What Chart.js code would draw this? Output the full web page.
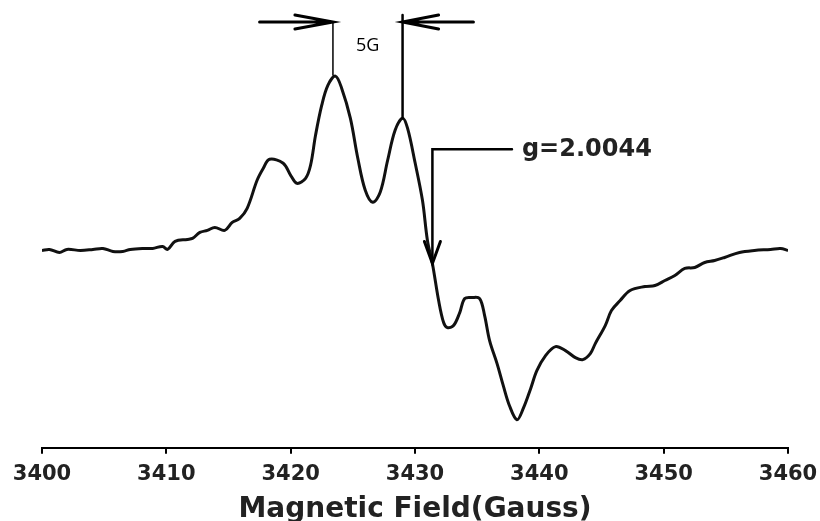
<!DOCTYPE html>
<html>
<head>
<meta charset="utf-8">
<title>EPR spectrum</title>
<script src="https://cdn.jsdelivr.net/npm/chart.js@4.4.1/dist/chart.umd.min.js"></script>
<style>
  html, body { margin: 0; padding: 0; background: #fff; }
  #wrap { width: 820px; height: 521px; position: relative; }
</style>
</head>
<body>
<div id="wrap"><canvas id="epr"></canvas></div>
<script>
// Field values (Gauss) and signal (arbitrary units, baseline = 0)
const fieldGauss = [
  3400.0, 3400.6, 3401.4, 3402.0, 3403.1, 3404.1, 3404.9, 3405.7, 3406.5, 3407.1,
  3408.1, 3408.9, 3409.7, 3410.1, 3410.7, 3411.7, 3412.1, 3412.7, 3413.3, 3413.9,
  3414.7, 3415.3, 3415.9, 3416.5, 3417.3, 3417.8, 3418.3, 3419.4, 3420.0, 3420.5,
  3421.2, 3421.6, 3422.0, 3422.5, 3423.0, 3423.6, 3424.1, 3424.8, 3425.4, 3426.0,
  3426.6, 3427.2, 3427.8, 3428.4, 3429.0, 3429.4, 3430.0, 3430.6, 3431.0, 3431.4,
  3431.9, 3432.3, 3432.6, 3433.1, 3433.6, 3434.0, 3434.6, 3435.2, 3435.6, 3436.0,
  3436.6, 3437.1, 3437.6, 3438.2, 3438.7, 3439.3, 3439.8, 3440.5, 3441.3, 3442.1,
  3442.9, 3443.5, 3444.1, 3444.5, 3445.3, 3445.8, 3446.5, 3447.3, 3448.5, 3449.3,
  3450.1, 3450.9, 3451.7, 3452.5, 3453.3, 3454.1, 3454.9, 3456.1, 3457.3, 3458.6,
  3459.4, 3460.0
];
const signal = [
  0, 1, -2, 1, 0, 1, 2, -1, -1, 1,
  2, 2, 4, 1, 9, 11, 12, 18, 20, 23,
  20, 28, 32, 42, 70, 82, 91, 87, 75, 67,
  72, 85, 115, 145, 165, 174, 162, 132, 92, 60,
  48, 58, 90, 120, 132, 122, 88, 50, 10, -13,
  -50, -72, -77, -75, -62, -48, -47, -48, -65, -90,
  -113, -135, -155, -169, -158, -138, -120, -105, -96, -100,
  -107, -109, -103, -93, -75, -60, -50, -40, -36, -35,
  -30, -25, -18, -17, -12, -10, -7, -2, 0, 1,
  2, 0
];
const fieldTicks = [3400, 3410, 3420, 3430, 3440, 3450, 3460];

// annotation anchors in data units
const splitLeft = 3423.4;   // first line of the 5G doublet
const splitRight = 3429.0;  // second line
const gField = 3431.4;      // g = 2.0044 position

const annotations = {
  id: 'annotations',
  afterDatasetsDraw(chart) {
    const { ctx } = chart;
    const x = chart.scales.x, y = chart.scales.y;
    const px = v => x.getPixelForValue(v);
    const py = v => y.getPixelForValue(v);
    ctx.save();
    ctx.strokeStyle = '#000';
    ctx.fillStyle = '#000';
    ctx.lineCap = 'round';

    // left arrow of 5G
    const xl = px(splitLeft), yTop = py(228);
    ctx.lineWidth = 3;
    ctx.beginPath();
    ctx.moveTo(px(3417.5), yTop); ctx.lineTo(xl, yTop);
    ctx.moveTo(xl - 38, yTop - 7); ctx.lineTo(xl, yTop); ctx.lineTo(xl - 38, yTop + 7);
    ctx.stroke();
    ctx.lineWidth = 1.5;
    ctx.beginPath();
    ctx.moveTo(xl, yTop); ctx.lineTo(xl, py(175));
    ctx.stroke();

    // right arrow of 5G
    const xr = px(splitRight);
    ctx.lineWidth = 3;
    ctx.beginPath();
    ctx.moveTo(px(3434.7), yTop); ctx.lineTo(xr, yTop);
    ctx.moveTo(xr + 36, yTop - 7); ctx.lineTo(xr, yTop); ctx.lineTo(xr + 36, yTop + 7);
    ctx.stroke();
    ctx.lineWidth = 2.5;
    ctx.beginPath();
    ctx.moveTo(xr, py(235)); ctx.lineTo(xr, py(132));
    ctx.stroke();

    ctx.font = '18px "Open Sans"';
    ctx.textAlign = 'center';
    ctx.textBaseline = 'middle';
    ctx.fillText('5G', px(3426.2), py(204));

    // g marker
    const xg = px(gField), yg = py(101), tip = py(-13);
    ctx.lineWidth = 2.5;
    ctx.beginPath();
    ctx.moveTo(px(3437.8), yg); ctx.lineTo(xg, yg); ctx.lineTo(xg, tip);
    ctx.stroke();
    ctx.lineWidth = 3;
    ctx.beginPath();
    ctx.moveTo(xg - 8, tip - 22); ctx.lineTo(xg, tip); ctx.lineTo(xg + 8, tip - 22);
    ctx.stroke();

    ctx.font = 'bold 24px "DejaVu Sans"';
    ctx.textAlign = 'left';
    ctx.fillStyle = '#222';
    ctx.fillText('g=2.0044', px(3438.6), py(100));
    ctx.restore();
  }
};

document.addEventListener('DOMContentLoaded', () => {
  const ctx = document.getElementById('epr').getContext('2d');
  new Chart(ctx, {
    type: 'line',
    data: {
      datasets: [{
        data: fieldGauss.map((f, i) => ({ x: f, y: signal[i] })),
        borderColor: '#111',
        borderWidth: 3,
        pointRadius: 0,
        fill: false,
        tension: 0.35
      }]
    },
    options: {
      responsive: true,
      maintainAspectRatio: false,
      animation: false,
      layout: { padding: { left: 42, right: 32, top: 10, bottom: 0 } },
      plugins: { legend: { display: false }, tooltip: { enabled: false } },
      scales: {
        x: {
          type: 'linear',
          min: 3400,
          max: 3460,
          afterBuildTicks: axis => { axis.ticks = fieldTicks.map(v => ({ value: v })); },
          grid: { display: true, drawOnChartArea: false, drawTicks: true, tickLength: 6, color: '#000', lineWidth: 2 },
          border: { display: true, color: '#000', width: 2 },
          ticks: {
            padding: 2,
            color: '#222',
            maxRotation: 0,
            callback: v => String(v),
            font: { family: '"DejaVu Sans"', weight: 'bold', size: 21, lineHeight: 1.8 }
          },
          title: {
            display: true,
            text: 'Magnetic Field(Gauss)',
            color: '#222',
            padding: { top: 3, bottom: 0 },
            font: { family: '"DejaVu Sans"', weight: 'bold', size: 28, lineHeight: 0.8 }
          }
        },
        y: {
          display: false,
          min: -197,
          max: 240
        }
      }
    },
    plugins: [annotations]
  });
});
</script>
</body>
</html>
